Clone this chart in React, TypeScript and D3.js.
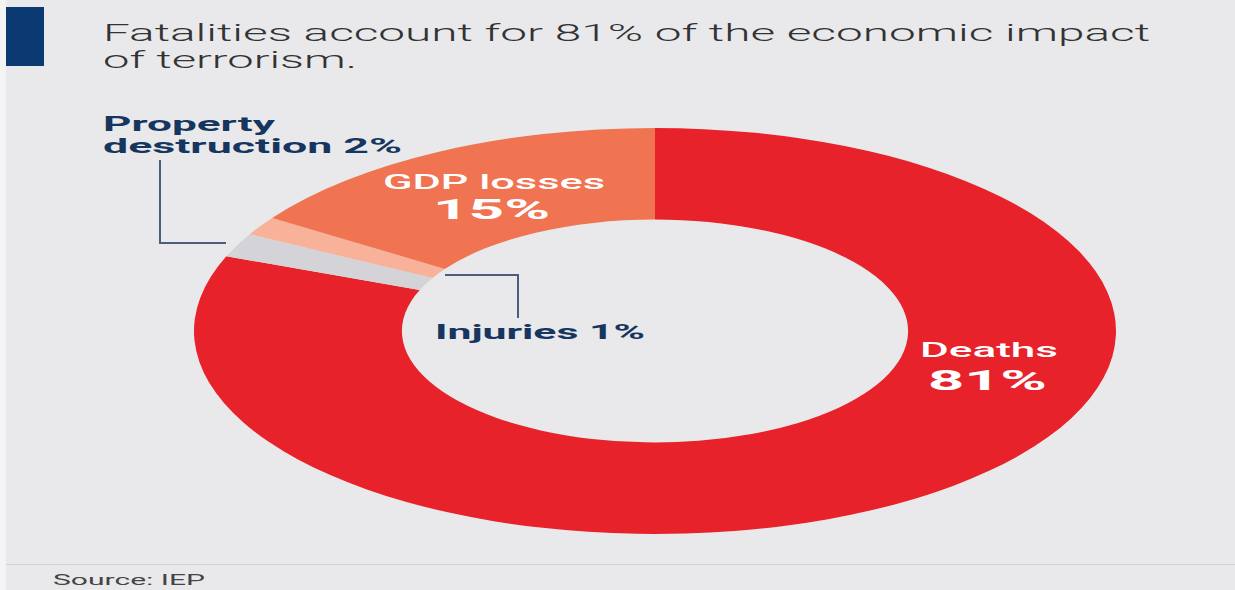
import React from "react";
import * as d3 from "d3";

const categories = ["Deaths", "Property destruction", "Injuries", "GDP losses"];
const shares = [81, 1.9, 1.5, 15.6];
const labelPercents = ["81%", "2%", "1%", "15%"];
const colors = ["#e8222a", "#d4d4d8", "#f8b29a", "#f07352"];

const W = 1235;
const H = 590;
const cx = 655;
const cy = 331;
const R = 203;
const innerRatio = 0.549;
const sx = 461 / 203;
const navy = "#17365f";
const font = "Roboto, 'Liberation Sans', Arial, sans-serif";

export default function App() {
  const pie = d3.pie<number>().sort(null).value((d) => d);
  const arcs = pie(shares);
  const arc = d3.arc<d3.PieArcDatum<number>>().innerRadius(R * innerRatio).outerRadius(R);

  return (
    <svg width={W} height={H} style={{ position: "absolute", left: 0, top: 0 }}>
      <rect x={0} y={0} width={W} height={H} fill="#f4f4f5" />
      <rect x={6} y={0} width={W - 6} height={H} fill="#e9e9eb" />
      <rect x={6} y={7} width={38} height={59} fill="#0b3a72" />
      <text x={103} y={41} fontFamily={font} fontSize={24} fontWeight={300} fill="#333" textLength={1047} lengthAdjust="spacingAndGlyphs">
        Fatalities account for 81% of the economic impact
      </text>
      <text x={103} y={68} fontFamily={font} fontSize={24} fontWeight={300} fill="#333" textLength={254} lengthAdjust="spacingAndGlyphs">
        of terrorism.
      </text>

      <g transform={`translate(${cx},${cy}) scale(${sx},1)`}>
        {arcs.map((a, i) => (
          <path key={categories[i]} d={arc(a) || ""} fill={colors[i]} />
        ))}
      </g>

      <text x={103} y={131} fontFamily={font} fontSize={21} fontWeight={700} fill={navy} textLength={172} lengthAdjust="spacingAndGlyphs">
        Property
      </text>
      <text x={103} y={153} fontFamily={font} fontSize={21} fontWeight={700} fill={navy} textLength={299} lengthAdjust="spacingAndGlyphs">
        {`destruction ${labelPercents[1]}`}
      </text>
      <polyline points="160,160 160,243 226,243" fill="none" stroke="#4b5f7c" strokeWidth={2} />

      <polyline points="445,275 518,275 518,318" fill="none" stroke="#4b5f7c" strokeWidth={2} />
      <text x={435} y={339} fontFamily={font} fontSize={21} fontWeight={700} fill={navy} textLength={210} lengthAdjust="spacingAndGlyphs">
        {`${categories[2]} ${labelPercents[2]}`}
      </text>

      <text x={383} y={189} fontFamily={font} fontSize={20} fontWeight={500} fill="#fff" textLength={222} lengthAdjust="spacingAndGlyphs">
        {categories[3]}
      </text>
      <text x={433} y={219} fontFamily={font} fontSize={28} fontWeight={700} fill="#fff" textLength={117} lengthAdjust="spacingAndGlyphs">
        {labelPercents[3]}
      </text>

      <text x={920} y={357} fontFamily={font} fontSize={20} fontWeight={500} fill="#fff" textLength={138} lengthAdjust="spacingAndGlyphs">
        {categories[0]}
      </text>
      <text x={928} y={390} fontFamily={font} fontSize={28} fontWeight={700} fill="#fff" textLength={119} lengthAdjust="spacingAndGlyphs">
        {labelPercents[0]}
      </text>

      <line x1={6} x2={W} y1={564.5} y2={564.5} stroke="#d2d2d4" strokeWidth={1} />
      <text x={53} y={585} fontFamily={font} fontSize={15} fill="#444" textLength={152} lengthAdjust="spacingAndGlyphs">
        Source: IEP
      </text>
    </svg>
  );
}
